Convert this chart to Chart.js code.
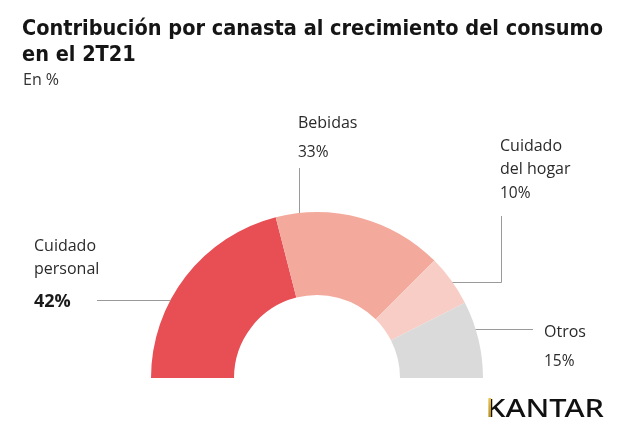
<!DOCTYPE html>
<html>
<head>
<meta charset="utf-8">
<script src="https://cdn.jsdelivr.net/npm/chart.js@4.4.0/dist/chart.umd.min.js"></script>
<style>
    html, body { margin: 0; padding: 0; background: #ffffff; }
    #wrap { position: relative; width: 640px; height: 431px; }
</style>
</head>
<body>
<div id="wrap"><canvas id="consumoChart"></canvas></div>
<script>
    "use strict";
    // data
    const categories = ["Cuidado personal", "Bebidas", "Cuidado del hogar", "Otros"];
    const labelLines = [["Cuidado", "personal"], ["Bebidas"], ["Cuidado", "del hogar"], ["Otros"]];
    const values = [42, 33, 10, 15];
    const sliceColors = ["#e84f55", "#f3aa9d", "#f8cdc6", "#dadada"];
    const titleLines = ["Contribución por canasta al crecimiento del consumo", "en el 2T21"];
    const subtitle = "En %";

    // where each label sits and how its leader line runs (towards the arc)
    const labelLayout = [
        { x: 34, lines: [251, 274], pct: 307, bold: true, leader: { type: "h", y: 300, from: 97 } },
        { x: 298, lines: [128], pct: 157, bold: false, leader: { type: "v", x: 299, from: 168 } },
        { x: 500, lines: [151, 174], pct: 198, bold: false, leader: { type: "elbow", x: 501, from: 216, y: 282 } },
        { x: 544, lines: [337], pct: 366, bold: false, leader: { type: "h", y: 329, from: 533 } },
    ];

    function fitText(ctx, text, x, y, width) {
        let w = ctx.measureText(text).width;
        ctx.save();
        ctx.translate(x, y);
        ctx.scale(width / w, 1);
        ctx.fillText(text, 0, 0);
        ctx.restore();
    }

    const annotations = {
        id: "annotations",
        afterDraw(chart) {
            const ctx = chart.ctx;
            const arc = chart.getDatasetMeta(0).data[0];
            const cx = arc.x, cy = arc.y, R = arc.outerRadius;

            ctx.save();
            // title
            ctx.fillStyle = "#151515";
            ctx.textBaseline = "alphabetic";
            ctx.font = "bold 22px 'Liberation Sans Narrow', 'DejaVu Sans Condensed', 'Roboto', sans-serif";
            fitText(ctx, titleLines[0], 22, 35, 581);
            let ratio = 581 / ctx.measureText(titleLines[0]).width;
            fitText(ctx, titleLines[1], 22, 61, ctx.measureText(titleLines[1]).width * ratio);
            ctx.font = "16px 'Open Sans', sans-serif";
            ctx.fillStyle = "#333333";
            ctx.fillText(subtitle, 23, 85);

            // leader lines
            ctx.strokeStyle = "#9a9a9a";
            ctx.lineWidth = 1;
            labelLayout.forEach(function (l) {
                let ld = l.leader;
                ctx.beginPath();
                if (ld.type === "h") {
                    let dx = Math.sqrt(R * R - (ld.y - cy) * (ld.y - cy));
                    let ax = ld.from < cx ? cx - dx : cx + dx;
                    ctx.moveTo(ld.from, ld.y + 0.5);
                    ctx.lineTo(ax, ld.y + 0.5);
                } else if (ld.type === "v") {
                    let dy = Math.sqrt(R * R - (ld.x - cx) * (ld.x - cx));
                    ctx.moveTo(ld.x + 0.5, ld.from);
                    ctx.lineTo(ld.x + 0.5, cy - dy);
                } else {
                    let dx = Math.sqrt(R * R - (ld.y - cy) * (ld.y - cy));
                    ctx.moveTo(ld.x + 0.5, ld.from);
                    ctx.lineTo(ld.x + 0.5, ld.y + 0.5);
                    ctx.lineTo(cx + dx, ld.y + 0.5);
                }
                ctx.stroke();
            });

            // labels
            labelLayout.forEach(function (l, i) {
                ctx.fillStyle = "#2a2a2a";
                ctx.font = "16px 'Open Sans', sans-serif";
                labelLines[i].forEach(function (t, j) {
                    ctx.fillText(t, l.x, l.lines[j]);
                });
                ctx.font = l.bold ? "bold 18px 'Open Sans', sans-serif" : "15.5px 'Open Sans', sans-serif";
                ctx.fillStyle = l.bold ? "#1a1a1a" : "#2a2a2a";
                ctx.fillText(values[i] + "%", l.x, l.pct);
            });

            // brand mark
            ctx.font = "500 26px 'Noto Sans', sans-serif";
            ctx.fillStyle = "#111111";
            fitText(ctx, "KANTAR", 486, 417, 118);
            let grad = ctx.createLinearGradient(0, 397, 0, 418);
            grad.addColorStop(0, "#f2c94c");
            grad.addColorStop(1, "#b58a1a");
            ctx.fillStyle = grad;
            ctx.fillRect(488.5, 398, 2.5, 19);
            ctx.restore();
        },
    };

    const data = {
        labels: categories,
        datasets: [
            {
                data: values,
                backgroundColor: sliceColors,
                borderWidth: 0,
                hoverOffset: 0,
            },
        ],
    };

    const config = {
        type: "doughnut",
        data: data,
        options: {
            responsive: true,
            maintainAspectRatio: false,
            animation: false,
            rotation: -90,
            circumference: 180,
            cutout: "50%",
            layout: {
                padding: { left: 151, right: 157, top: 212, bottom: 53 },
            },
            plugins: {
                legend: { display: false },
                tooltip: { enabled: false },
                title: { display: false },
            },
        },
        plugins: [annotations],
    };

    new Chart(document.getElementById("consumoChart"), config);
</script>
</body>
</html>
